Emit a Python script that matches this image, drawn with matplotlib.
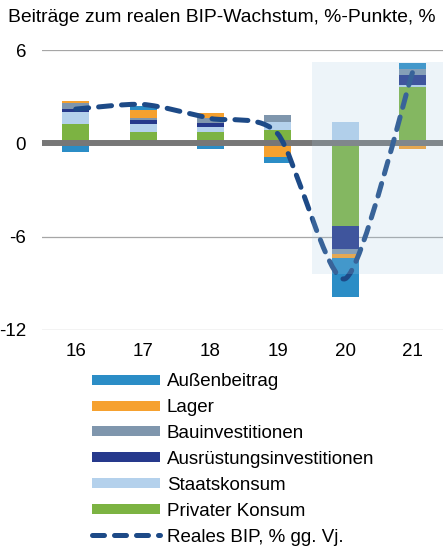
import numpy as np
import matplotlib
matplotlib.use("Agg")
import matplotlib.pyplot as plt
from matplotlib.lines import Line2D
from matplotlib.patches import Rectangle, PathPatch
from matplotlib.path import Path

plt.rcParams["font.family"] = ["Liberation Sans", "DejaVu Sans"]

years = ["16", "17", "18", "19", "20", "21"]
privat = [1.22, 0.71, 0.71, 0.84, -5.32, 3.64]
staat = [0.82, 0.51, 0.32, 0.50, 1.40, 0.13]
ausruestung = [0.17, 0.30, 0.30, 0.05, -1.45, 0.64]
bau = [0.40, 0.10, 0.30, 0.43, -0.34, 0.39]
lager = [0.13, 0.51, 0.30, -0.86, -0.26, -0.34]
aussen = [-0.56, 0.26, -0.35, -0.39, -2.50, 0.34]
bip = [2.2, 2.5, 1.6, 0.6, -8.7, 4.6]

# stacking order from the zero line outwards
series = [
    ("Privater Konsum", privat, "#7cb342"),
    ("Staatskonsum", staat, "#b4d1ec"),
    ("Ausrüstungsinvestitionen", ausruestung, "#26398c"),
    ("Bauinvestitionen", bau, "#7f96ad"),
    ("Lager", lager, "#f6a12f"),
    ("Außenbeitrag", aussen, "#2b8dc6"),
]
line_color = "#1d4a87"

fig = plt.figure(figsize=(4.43, 5.46), dpi=100)
ax = fig.add_axes([42 / 443, 216 / 546, 401 / 443, 280 / 546])

x = np.arange(len(years))
pos = np.zeros(len(years))
neg = np.zeros(len(years))
for name, vals, col in series:
    vals = np.array(vals)
    bottom = np.where(vals >= 0, pos, neg)
    ax.bar(x, vals, width=0.4, bottom=bottom, color=col, edgecolor="none", zorder=2)
    pos = pos + np.where(vals >= 0, vals, 0)
    neg = neg + np.where(vals < 0, vals, 0)

# gridlines and zero line
for g in (6, -6, -12):
    ax.axhline(g, color="#a6a6a6", linewidth=0.9, zorder=1)
ax.axhline(0, color="#777777", linewidth=4.3, zorder=3)

# smoothed GDP line (bezier segments through the points)
pts = np.column_stack([x, bip]).astype(float)
ext = np.vstack([pts[0], pts, pts[-1]])
k = 1 / 8.0
verts = [tuple(pts[0])]
codes = [Path.MOVETO]
for i in range(len(pts) - 1):
    p0, p1, p2, p3 = ext[i], ext[i + 1], ext[i + 2], ext[i + 3]
    c1 = p1 + (p2 - p0) * k
    c2 = p2 - (p3 - p1) * k
    verts += [tuple(c1), tuple(c2), tuple(p2)]
    codes += [Path.CURVE4] * 3
curve = PathPatch(Path(verts, codes), facecolor="none", edgecolor=line_color,
                  linewidth=3.6, linestyle=(0, (2.6, 2.0)), capstyle="round", zorder=4)
ax.add_patch(curve)

# shaded forecast area drawn on top
ax.add_patch(Rectangle((3.5, -8.4), 3.0, 13.6, facecolor="#a5c8e2", alpha=0.2,
                       edgecolor="none", zorder=5))

ax.set_xlim(-0.5, 5.45)
ax.set_ylim(-12, 6)
ax.set_yticks([6, 0, -6, -12])
ax.set_yticklabels(["6", "0", "-6", "-12"])
ax.set_xticks(x)
ax.set_xticklabels(years)
ax.tick_params(axis="both", length=0, labelsize=13.5)
ax.tick_params(axis="y", pad=11.5)
ax.tick_params(axis="x", pad=9)
for s in ax.spines.values():
    s.set_visible(False)
ax.patch.set_alpha(0)

fig.text(8 / 443, 1 - 17 / 546, "Beiträge zum realen BIP-Wachstum, %-Punkte, %",
         fontsize=13.9, va="center", ha="left")

handles = [Line2D([], [], color=col, linewidth=7.2, solid_capstyle="butt", label=name)
           for name, vals, col in reversed(series)]
handles.append(Line2D([], [], color=line_color, linewidth=3.6, linestyle=(0, (2.4, 2.0)),
                      dash_capstyle="round", label="Reales BIP, % gg. Vj."))
fig.legend(handles=handles, loc="upper left", bbox_to_anchor=(92 / 443, 1 - 373 / 546),
           frameon=False, fontsize=13.5, handlelength=3.63, handletextpad=0.37,
           labelspacing=0.47, borderpad=0, borderaxespad=0)

fig.savefig("out.png", dpi=100)
